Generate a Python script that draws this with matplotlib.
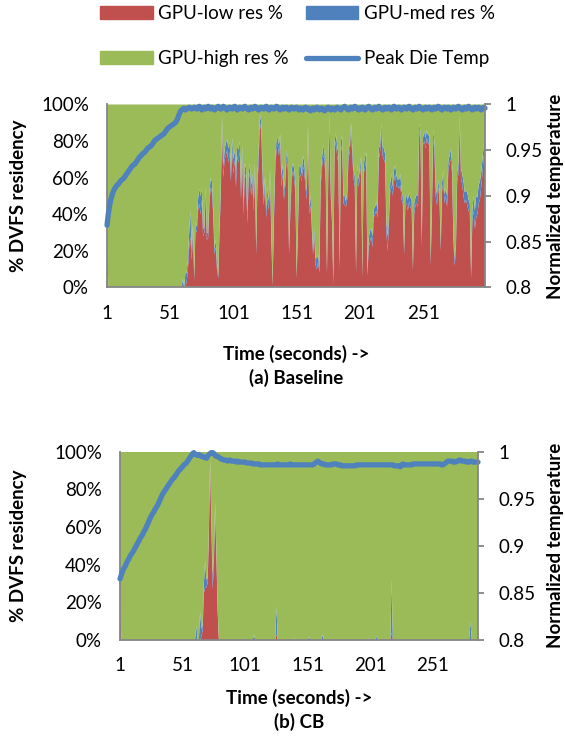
import numpy as np
import matplotlib
matplotlib.use("Agg")
import matplotlib.pyplot as plt
from matplotlib.patches import Patch
from matplotlib.lines import Line2D

plt.rcParams['font.family'] = ['Lato', 'DejaVu Sans']

RED = '#C0504D'
BLUE = '#4F81BD'
GREEN = '#9BBB59'
GREY = '#868686'
FS = 13.5

# ---- (a) Baseline: % residency per second (1..300) ----
base_low = [
    35, 0, 0, 0, 0, 0, 0, 0, 0, 0,
    0, 0, 0, 0, 0, 0, 0, 0, 0, 0,
    0, 0, 0, 0, 0, 0, 0, 0, 0, 0,
    0, 0, 0, 0, 0, 0, 0, 0, 0, 0,
    0, 0, 0, 0, 0, 0, 0, 0, 0, 0,
    0, 0, 0, 0, 0, 0, 0, 0, 0, 0,
    0, 0, 0, 3, 10, 22, 28, 15, 30, 4,
    32, 30, 42, 46, 40, 48, 28, 30, 50, 26,
    27, 45, 55, 52, 40, 18, 22, 10, 5, 30,
    50, 88, 60, 70, 72, 75, 68, 74, 58, 76,
    62, 70, 55, 72, 68, 75, 48, 70, 40, 62,
    60, 35, 58, 63, 50, 58, 42, 62, 18, 55,
    70, 90, 85, 60, 45, 55, 38, 50, 42, 60,
    25, 1, 35, 62, 75, 78, 72, 80, 55, 62,
    48, 56, 70, 65, 18, 40, 58, 64, 60, 52,
    5, 30, 60, 62, 58, 66, 64, 55, 48, 85,
    40, 45, 32, 18, 28, 12, 10, 14, 8, 55,
    65, 72, 70, 58, 7, 60, 90, 50, 35, 2,
    75, 80, 72, 68, 10, 74, 78, 46, 45, 44,
    48, 70, 74, 86, 72, 60, 55, 8, 62, 55,
    60, 68, 5, 62, 65, 70, 6, 22, 25, 28,
    22, 38, 40, 42, 38, 70, 74, 86, 72, 70,
    68, 30, 20, 35, 52, 56, 50, 58, 62, 55,
    55, 54, 56, 48, 46, 18, 44, 46, 42, 47,
    44, 42, 9, 40, 45, 46, 44, 86, 80, 22,
    78, 80, 76, 82, 78, 80, 12, 40, 82, 74,
    50, 45, 55, 48, 20, 52, 58, 46, 50, 44,
    64, 68, 70, 62, 25, 12, 20, 58, 62, 90,
    60, 56, 50, 46, 48, 45, 42, 40, 5, 36,
    42, 32, 38, 40, 46, 48, 55, 62, 72, 75,
]
base_med = [
    0, 0, 0, 0, 0, 0, 0, 0, 0, 0,
    0, 0, 0, 0, 0, 0, 0, 0, 0, 0,
    0, 0, 0, 0, 0, 0, 0, 0, 0, 0,
    0, 0, 0, 0, 0, 0, 0, 0, 0, 0,
    0, 0, 0, 0, 0, 0, 0, 0, 0, 0,
    0, 0, 0, 0, 0, 0, 0, 0, 0, 0,
    5, 0, 8, 5, 5, 8, 14, 5, 5, 2,
    4, 3, 6, 8, 10, 6, 4, 3, 5, 4,
    3, 6, 5, 6, 4, 3, 4, 3, 2, 5,
    5, 6, 6, 5, 7, 6, 8, 6, 5, 6,
    8, 5, 8, 6, 7, 5, 6, 8, 5, 6,
    5, 6, 4, 5, 6, 4, 5, 6, 3, 6,
    6, 5, 5, 6, 5, 6, 4, 5, 5, 4,
    4, 1, 5, 6, 5, 4, 6, 4, 6, 5,
    5, 4, 5, 6, 3, 5, 6, 4, 5, 5,
    1, 4, 6, 5, 4, 6, 5, 5, 4, 4,
    4, 5, 4, 3, 4, 4, 6, 4, 3, 5,
    5, 6, 4, 5, 2, 5, 4, 4, 3, 1,
    5, 4, 6, 5, 2, 6, 5, 4, 5, 3,
    4, 5, 4, 4, 5, 4, 6, 3, 5, 4,
    5, 4, 2, 5, 6, 4, 2, 5, 6, 4,
    6, 5, 4, 5, 4, 6, 4, 4, 5, 6,
    5, 6, 8, 4, 5, 6, 5, 6, 5, 6,
    4, 5, 6, 5, 4, 3, 5, 4, 6, 5,
    5, 6, 2, 6, 4, 5, 6, 4, 5, 4,
    4, 5, 6, 4, 5, 4, 3, 5, 4, 6,
    5, 6, 4, 5, 3, 5, 6, 5, 4, 6,
    5, 4, 6, 5, 4, 4, 3, 5, 6, 4,
    5, 6, 8, 6, 5, 7, 6, 6, 2, 6,
    8, 10, 12, 9, 10, 10, 8, 8, 6, 5,
]
base_temp = [
    0.868, 0.880, 0.889, 0.896, 0.901, 0.905, 0.908, 0.910, 0.912, 0.913,
    0.915, 0.917, 0.918, 0.919, 0.921, 0.923, 0.925, 0.927, 0.929, 0.931,
    0.933, 0.934, 0.935, 0.937, 0.939, 0.941, 0.943, 0.944, 0.946, 0.947,
    0.948, 0.950, 0.952, 0.953, 0.954, 0.955, 0.957, 0.959, 0.961, 0.962,
    0.963, 0.964, 0.965, 0.966, 0.967, 0.968, 0.970, 0.972, 0.974, 0.975,
    0.976, 0.977, 0.978, 0.979, 0.980, 0.982, 0.985, 0.989, 0.992, 0.994,
    0.995, 0.996, 0.994, 0.995, 0.996, 0.997, 0.996, 0.995, 0.996, 0.997,
    0.996, 0.995, 0.997, 0.998, 0.996, 0.994, 0.996, 0.997, 0.995, 0.996,
    0.998, 0.996, 0.995, 0.997, 0.996, 0.994, 0.995, 0.997, 0.998, 0.996,
    0.995, 0.996, 0.998, 0.997, 0.995, 0.994, 0.996, 0.997, 0.996, 0.995,
    0.997, 0.998, 0.996, 0.994, 0.995, 0.997, 0.996, 0.995, 0.997, 0.998,
    0.996, 0.995, 0.994, 0.996, 0.997, 0.995, 0.996, 0.998, 0.997, 0.995,
    0.994, 0.996, 0.997, 0.996, 0.995, 0.997, 0.998, 0.996, 0.994, 0.995,
    0.997, 0.996, 0.995, 0.996, 0.998, 0.997, 0.995, 0.994, 0.996, 0.997,
    0.995, 0.996, 0.997, 0.995, 0.994, 0.995, 0.997, 0.996, 0.995, 0.996,
    0.997, 0.995, 0.994, 0.996, 0.995, 0.994, 0.996, 0.997, 0.995, 0.996,
    0.994, 0.993, 0.995, 0.996, 0.994, 0.995, 0.997, 0.996, 0.994, 0.995,
    0.996, 0.995, 0.993, 0.994, 0.996, 0.997, 0.995, 0.994, 0.996, 0.995,
    0.994, 0.995, 0.997, 0.996, 0.995, 0.994, 0.996, 0.997, 0.998, 0.996,
    0.995, 0.994, 0.996, 0.997, 0.995, 0.996, 0.998, 0.997, 0.995, 0.994,
    0.996, 0.995, 0.997, 0.996, 0.994, 0.995, 0.997, 0.998, 0.996, 0.995,
    0.994, 0.996, 0.997, 0.995, 0.996, 0.998, 0.996, 0.995, 0.994, 0.996,
    0.997, 0.995, 0.996, 0.997, 0.995, 0.994, 0.996, 0.998, 0.997, 0.995,
    0.996, 0.997, 0.995, 0.994, 0.996, 0.997, 0.996, 0.995, 0.997, 0.998,
    0.996, 0.995, 0.994, 0.996, 0.997, 0.995, 0.996, 0.998, 0.996, 0.995,
    0.994, 0.996, 0.997, 0.995, 0.996, 0.997, 0.995, 0.994, 0.996, 0.997,
    0.995, 0.996, 0.998, 0.997, 0.995, 0.994, 0.996, 0.997, 0.996, 0.995,
    0.997, 0.996, 0.994, 0.995, 0.997, 0.996, 0.995, 0.997, 0.998, 0.996,
    0.995, 0.994, 0.996, 0.997, 0.995, 0.996, 0.998, 0.996, 0.995, 0.994,
    0.996, 0.997, 0.995, 0.996, 0.997, 0.995, 0.994, 0.996, 0.997, 0.996,
]

# ---- (b) CB: 287 seconds, residency mostly GPU-high; non-zero seconds listed ----
cb_len = 287
cb_low_sec = [1, 66, 67, 68, 69, 70, 71, 72, 73, 74, 75, 76, 77, 78, 79, 126, 218]
cb_low_val = [31, 2, 5, 25, 28, 28, 30, 55, 94, 60, 27, 40, 70, 45, 15, 3, 4]
cb_med_sec = [62, 65, 66, 67, 68, 69, 70, 71, 72, 73, 74, 75, 76, 77, 78, 79,
              108, 126, 140, 152, 163, 200, 206, 218, 281]
cb_med_val = [8, 15, 4, 3, 5, 14, 4, 3, 3, 2, 4, 8, 4, 3, 2, 2,
              3, 15, 1, 2, 3, 1, 2, 28, 10]
cb_temp = [
    0.865, 0.869, 0.873, 0.876, 0.878, 0.881, 0.884, 0.886, 0.889, 0.891,
    0.893, 0.895, 0.898, 0.900, 0.903, 0.905, 0.908, 0.910, 0.912, 0.915,
    0.917, 0.920, 0.923, 0.926, 0.929, 0.932, 0.934, 0.936, 0.939, 0.941,
    0.943, 0.946, 0.949, 0.952, 0.955, 0.957, 0.959, 0.961, 0.963, 0.965,
    0.967, 0.969, 0.971, 0.972, 0.974, 0.976, 0.978, 0.980, 0.981, 0.983,
    0.984, 0.986, 0.987, 0.988, 0.990, 0.992, 0.994, 0.996, 0.998, 0.999,
    0.997, 0.997, 0.996, 0.997, 0.996, 0.995, 0.995, 0.994, 0.994, 0.993,
    0.995, 0.997, 0.998, 0.999, 0.999, 0.998, 0.996, 0.995, 0.995, 0.994,
    0.993, 0.992, 0.992, 0.991, 0.991, 0.991, 0.990, 0.991, 0.991, 0.990,
    0.990, 0.990, 0.990, 0.989, 0.990, 0.989, 0.989, 0.989, 0.989, 0.989,
    0.989, 0.988, 0.988, 0.988, 0.988, 0.988, 0.987, 0.987, 0.987, 0.987,
    0.987, 0.987, 0.986, 0.986, 0.986, 0.986, 0.986, 0.986, 0.986, 0.986,
    0.986, 0.986, 0.986, 0.986, 0.986, 0.986, 0.987, 0.986, 0.986, 0.986,
    0.986, 0.986, 0.986, 0.986, 0.986, 0.986, 0.987, 0.986, 0.986, 0.986,
    0.986, 0.986, 0.986, 0.986, 0.986, 0.986, 0.986, 0.986, 0.986, 0.986,
    0.986, 0.986, 0.986, 0.986, 0.986, 0.987, 0.988, 0.989, 0.990, 0.989,
    0.988, 0.987, 0.987, 0.987, 0.986, 0.986, 0.986, 0.986, 0.986, 0.986,
    0.987, 0.987, 0.987, 0.987, 0.986, 0.986, 0.986, 0.985, 0.985, 0.985,
    0.985, 0.985, 0.985, 0.985, 0.985, 0.985, 0.985, 0.985, 0.985, 0.986,
    0.986, 0.986, 0.986, 0.986, 0.986, 0.986, 0.986, 0.986, 0.986, 0.986,
    0.986, 0.986, 0.986, 0.986, 0.986, 0.986, 0.986, 0.986, 0.986, 0.986,
    0.986, 0.986, 0.986, 0.986, 0.986, 0.986, 0.986, 0.986, 0.986, 0.985,
    0.985, 0.985, 0.985, 0.985, 0.984, 0.986, 0.987, 0.986, 0.986, 0.986,
    0.986, 0.986, 0.986, 0.986, 0.987, 0.987, 0.987, 0.987, 0.987, 0.987,
    0.987, 0.987, 0.987, 0.987, 0.987, 0.987, 0.987, 0.987, 0.987, 0.987,
    0.987, 0.987, 0.987, 0.987, 0.987, 0.987, 0.987, 0.986, 0.986, 0.987,
    0.988, 0.989, 0.990, 0.990, 0.990, 0.990, 0.989, 0.989, 0.989, 0.990,
    0.990, 0.991, 0.991, 0.990, 0.990, 0.990, 0.990, 0.989, 0.989, 0.989,
    0.990, 0.990, 0.989, 0.989, 0.989, 0.989, 0.989,
]

pct_ticks = [0, 20, 40, 60, 80, 100]
temp_ticks = [0.8, 0.85, 0.9, 0.95, 1.0]
temp_labels = ['0.8', '0.85', '0.9', '0.95', '1']
x_ticks = [1, 51, 101, 151, 201, 251]


def draw_panel(ax, low, med, temp, ylab_x, yrlab_x, xlab_y, cap_y, caption):
    low = np.asarray(low, dtype=float)
    med = np.asarray(med, dtype=float)
    high = 100 - low - med
    t = np.arange(1, len(low) + 1)

    ax.stackplot(t, low, med, high, colors=[RED, BLUE, GREEN], linewidth=0)
    ax.set_xlim(1, len(low))
    ax.set_ylim(0, 100)
    ax.set_yticks(pct_ticks)
    ax.set_yticklabels([f'{v}%' for v in pct_ticks])
    ax.set_xticks(x_ticks)
    ax.tick_params(axis='both', length=0, labelsize=FS)
    ax.tick_params(axis='y', pad=13)
    ax.tick_params(axis='x', pad=12.5)
    for s in ['top', 'right']:
        ax.spines[s].set_visible(False)
    for s in ['left', 'bottom']:
        ax.spines[s].set_color(GREY)
        ax.spines[s].set_linewidth(1.3)
    ax.set_ylabel('% DVFS residency', fontsize=FS, fontweight='bold')
    ax.yaxis.set_label_coords(ylab_x, 0.5)

    axr = ax.twinx()
    axr.plot(t, temp, color=BLUE, lw=3.8, solid_capstyle='round',
             solid_joinstyle='round', clip_on=False)
    axr.set_ylim(0.8, 1.0)
    axr.set_yticks(temp_ticks)
    axr.set_yticklabels(temp_labels)
    axr.tick_params(axis='y', length=4.5, width=1.3, color=GREY,
                    direction='out', pad=10, labelsize=FS)
    for s in ['top', 'left', 'bottom']:
        axr.spines[s].set_visible(False)
    axr.spines['right'].set_color(GREY)
    axr.spines['right'].set_linewidth(1.3)
    axr.set_ylabel('Normalized temperature', fontsize=FS, fontweight='bold')
    axr.yaxis.set_label_coords(yrlab_x, 0.5)

    ax.text(0.5, xlab_y, 'Time (seconds) ->', transform=ax.transAxes,
            ha='center', va='center', fontsize=FS, fontweight='bold')
    ax.text(0.5, cap_y, caption, transform=ax.transAxes,
            ha='center', va='center', fontsize=FS, fontweight='bold')


fig = plt.figure(figsize=(5.65, 7.40), dpi=100)
ax_a = fig.add_axes([0.1894, 0.6115, 0.669, 0.2473])
ax_b = fig.add_axes([0.2124, 0.1351, 0.6336, 0.2545])

draw_panel(ax_a, base_low, base_med, base_temp, -0.212, 1.164, -0.363, -0.495,
           '(a) Baseline')

cb_low = np.zeros(cb_len)
cb_low[np.array(cb_low_sec) - 1] = cb_low_val
cb_med = np.zeros(cb_len)
cb_med[np.array(cb_med_sec) - 1] = cb_med_val
draw_panel(ax_b, cb_low, cb_med, cb_temp, -0.26, 1.193, -0.308, -0.435,
           '(b) CB')

handles = [Patch(color=RED, label='GPU-low res %'),
           Patch(color=GREEN, label='GPU-high res %'),
           Patch(color=BLUE, label='GPU-med res %'),
           Line2D([], [], color=BLUE, lw=3.8, solid_capstyle='round',
                  label='Peak Die Temp')]
fig.legend(handles=handles, loc='upper left', bbox_to_anchor=(100 / 565, 1 - 5 / 740),
           ncol=2, frameon=False, fontsize=FS, handlelength=2.8, handleheight=0.65,
           handletextpad=0.3, columnspacing=0.9, labelspacing=1.5,
           borderaxespad=0, borderpad=0)

fig.savefig('out.png', dpi=100)
